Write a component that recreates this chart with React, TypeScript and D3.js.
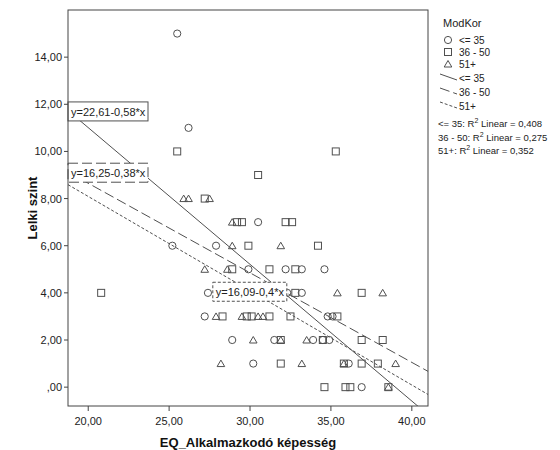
import React from "react"
import * as d3 from "d3"

type Pt = [number, number]

// ModKor <= 35 (circles)
const groupYoung: Pt[] = [
  [25.5, 15], [26.2, 11], [25.2, 6], [27.9, 6], [30.5, 7],
  [29.9, 5], [32.2, 5], [33.2, 5], [34.6, 5],
  [27.4, 4], [32.3, 4], [33.2, 4],
  [27.2, 3], [34.8, 3], [35.1, 3],
  [28.9, 2], [31.5, 2], [33.9, 2], [34.5, 2], [34.9, 2],
  [30.2, 1], [36.1, 1], [36.9, 0],
]

// ModKor 36 - 50 (squares)
const groupMiddle: Pt[] = [
  [25.5, 10], [35.3, 10], [30.5, 9], [27.2, 8],
  [29.2, 7], [29.5, 7], [32.2, 7], [32.6, 7],
  [29.9, 6], [34.2, 6],
  [28.9, 5], [31.2, 5], [32.8, 5],
  [20.8, 4], [28.6, 4], [32.8, 4], [36.9, 4],
  [28.3, 3], [29.8, 3], [30.1, 3], [31.2, 3], [32.5, 3], [35.4, 3],
  [31.9, 2], [34.5, 2], [36.9, 2], [38.2, 2],
  [31.9, 1], [35.8, 1], [36.9, 1], [37.9, 1],
  [34.6, 0], [35.9, 0], [36.2, 0], [38.55, 0],
]

// ModKor 51+ (triangles)
const groupOld: Pt[] = [
  [25.9, 8], [26.2, 8], [27.5, 8],
  [28.9, 7], [28.9, 6], [31.9, 6],
  [27.2, 5], [28.6, 5],
  [30.6, 4], [35.4, 4], [38.2, 4],
  [27.9, 3], [29.5, 3], [30.5, 3], [30.8, 3],
  [30.2, 2], [31.9, 2], [33.5, 2],
  [28.2, 1], [33.2, 1], [35.8, 1], [39.0, 1],
  [38.55, 0],
]

const groupNames = ["<= 35", "36 - 50", "51+"]
const intercepts = [22.61, 16.25, 16.09]
const slopes = [-0.58, -0.38, -0.4]
const fitLabels = ["y=22,61-0,58*x", "y=16,25-0,38*x", "y=16,09-0,4*x"]
const rSquared = ["0,408", "0,275", "0,352"]
// where each equation label sits (data units: left x, top y)
const labelAnchors: Pt[] = [[18.75, 12.1], [18.75, 9.5], [27.7, 4.45]]

const xTicks = [20, 25, 30, 35, 40]
const yTicks = [0, 2, 4, 6, 8, 10, 12, 14]

const dashes = ["none", "10,4", "3,2"]
const ink = "#505050"
const font = "'Liberation Sans', Arial, sans-serif"

const fmt = (v: number) => (v === 0 ? ",00" : v.toFixed(2).replace(".", ","))

export default function App() {
  const width = 560
  const height = 450
  const m = { left: 68, top: 10, right: 428, bottom: 406 }

  const x = d3.scaleLinear().domain([18.75, 41.0]).range([m.left, m.right])
  const y = d3.scaleLinear().domain([-0.8, 16.0]).range([m.bottom, m.top])

  const groups = [groupYoung, groupMiddle, groupOld]

  const marker = (g: number, cx: number, cy: number, key: string) => {
    if (g === 0) return <circle key={key} cx={cx} cy={cy} r={3.6} fill="none" stroke={ink} />
    if (g === 1) return <rect key={key} x={cx - 3.5} y={cy - 3.5} width={7} height={7} fill="none" stroke={ink} />
    return (
      <path key={key} d={`M${cx},${cy - 3.5}L${cx + 3.8},${cy + 3}L${cx - 3.8},${cy + 3}Z`} fill="none" stroke={ink} />
    )
  }

  const fitLine = (g: number) =>
    d3.line<number>()
      .x((v) => x(v))
      .y((v) => y(intercepts[g] + slopes[g] * v))(x.domain())

  const labelW = [80, 80, 74]

  return (
    <svg width={width} height={height} style={{ position: "absolute", left: 0, top: 0, background: "#fff" }} fontFamily={font}>
      <defs>
        <clipPath id="plot">
          <rect x={m.left} y={m.top} width={m.right - m.left} height={m.bottom - m.top} />
        </clipPath>
      </defs>

      {/* points */}
      <g>
        {groups.map((pts, g) => pts.map((p, i) => marker(g, x(p[0]), y(p[1]), `${g}-${i}`)))}
      </g>

      {/* fit lines */}
      <g clipPath="url(#plot)">
        {groups.map((_, g) => (
          <path key={g} d={fitLine(g) ?? ""} fill="none" stroke={ink} strokeWidth={1} strokeDasharray={dashes[g]} />
        ))}
      </g>

      {/* equation labels */}
      {fitLabels.map((t, g) => {
        const lx = x(labelAnchors[g][0])
        const ly = y(labelAnchors[g][1])
        return (
          <g key={t}>
            <rect x={lx} y={ly} width={labelW[g]} height={19} fill="#fff" stroke={ink} strokeDasharray={dashes[g]} />
            <text x={lx + 3} y={ly + 14} fontSize={11} fill="#222">{t}</text>
          </g>
        )
      })}

      {/* frame */}
      <rect x={m.left} y={m.top} width={m.right - m.left} height={m.bottom - m.top} fill="none" stroke="#444" />

      {/* y axis */}
      {yTicks.map((v) => (
        <g key={v}>
          <line x1={m.left - 4} x2={m.left} y1={y(v)} y2={y(v)} stroke="#444" />
          <text x={m.left - 6} y={y(v) + 4} fontSize={11} textAnchor="end" fill="#222">{fmt(v)}</text>
        </g>
      ))}
      {/* x axis */}
      {xTicks.map((v) => (
        <g key={v}>
          <line x1={x(v)} x2={x(v)} y1={m.bottom} y2={m.bottom + 5} stroke="#444" />
          <text x={x(v)} y={m.bottom + 19} fontSize={11} textAnchor="middle" fill="#222">{fmt(v)}</text>
        </g>
      ))}

      <text x={(m.left + m.right) / 2} y={447} fontSize={13} fontWeight="bold" textAnchor="middle" fill="#111">
        EQ_Alkalmazkodó képesség
      </text>
      <text transform={`translate(37,${(m.top + m.bottom) / 2}) rotate(-90)`} fontSize={13} fontWeight="bold" textAnchor="middle" fill="#111">
        Lelki szint
      </text>

      {/* legend */}
      <g fontSize={10} fill="#222">
        <text x={443} y={27} fontSize={11}>ModKor</text>
        {groupNames.map((n, g) => (
          <g key={n}>
            {marker(g, 448, 40 + g * 12, `lg${g}`)}
            <text x={459} y={44 + g * 12}>{n}</text>
          </g>
        ))}
        {groupNames.map((n, g) => (
          <g key={`l${n}`}>
            <line x1={440} y1={74 + g * 14} x2={457} y2={80 + g * 14} stroke={ink} strokeDasharray={dashes[g]} />
            <text x={459} y={82 + g * 14}>{n}</text>
          </g>
        ))}
        {groupNames.map((n, g) => (
          <text key={`r${n}`} x={438} y={127 + g * 13.5} fontSize={9.5}>
            {n}: R<tspan dy={-4} fontSize={7}>2</tspan><tspan dy={4}> Linear = {rSquared[g]}</tspan>
          </text>
        ))}
      </g>
    </svg>
  )
}
